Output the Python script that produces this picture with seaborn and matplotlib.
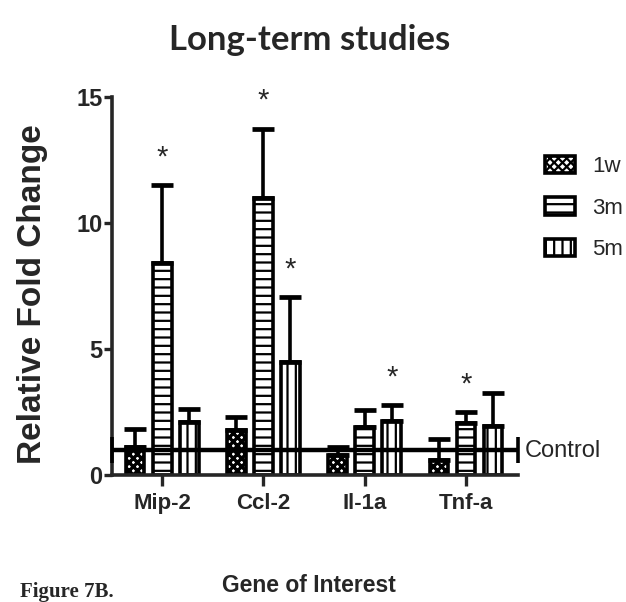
import numpy as np
import pandas as pd
import matplotlib
matplotlib.use("Agg")
import matplotlib.pyplot as plt
from matplotlib import font_manager as fm
import seaborn as sns

# ---- data ----
genes = ["Mip-2", "Ccl-2", "Il-1a", "Tnf-a"]
groups = ["1w", "3m", "5m"]
w1 = [1.10, 1.79, 0.79, 0.60]
w1_err = [0.72, 0.50, 0.31, 0.82]
m3 = [8.40, 11.00, 1.92, 2.08]
m3_err = [3.10, 2.75, 0.66, 0.41]
m5 = [2.09, 4.47, 2.14, 1.94]
m5_err = [0.51, 2.58, 0.64, 1.30]
w1_sig = [False, False, False, False]
m3_sig = [True, True, False, True]
m5_sig = [False, True, True, False]
control = 1.0
yticks = [0, 5, 10, 15]

sns.set_style("ticks")
names = {f.name for f in fm.fontManager.ttflist}
narrow = "Liberation Sans Narrow" if "Liberation Sans Narrow" in names else "Liberation Sans"
plt.rcParams["font.family"] = [narrow, "DejaVu Sans"]
plt.rcParams["hatch.linewidth"] = 1.6

df = pd.DataFrame({
    "gene": genes * 3,
    "group": sum([[g] * len(genes) for g in groups], []),
    "value": w1 + m3 + m5,
})
errs = [w1_err, m3_err, m5_err]
sigs = [w1_sig, m3_sig, m5_sig]

fig = plt.figure(figsize=(6.26, 6.02), dpi=100)
ax = fig.add_axes([112 / 626, 1 - 475 / 602, (518 - 112) / 626, (475 - 97) / 602])

sns.barplot(data=df, x="gene", y="value", hue="group", order=genes, hue_order=groups,
            errorbar=None, gap=0.3, palette=["white"] * 3, edgecolor="black",
            linewidth=2.6, legend=False, ax=ax, zorder=2)

bar_conts = list(ax.containers)
hatches = ["xxxx", "--", "||"]
hatch_lw = [2.4, 1.6, 1.6]
for cont, h, hl, er, sg in zip(bar_conts, hatches, hatch_lw, errs, sigs):
    xs, tops = [], []
    for p in cont.patches:
        p.set_hatch(h)
        if hasattr(p, "set_hatch_linewidth"):
            p.set_hatch_linewidth(hl)
        p.set_facecolor("white")
        p.set_edgecolor("black")
        xs.append(p.get_x() + p.get_width() / 2)
        tops.append(p.get_height())
    ax.errorbar(xs, tops, yerr=[np.zeros(len(er)), er], fmt="none", ecolor="black",
                elinewidth=2.6, capsize=8, capthick=3.4, zorder=3)
    for x, t, e, s in zip(xs, tops, er, sg):
        if s:
            ax.annotate("*", (x, t + e), xytext=(0, 20), textcoords="offset points",
                        ha="center", va="center", fontsize=21)

xl = (-0.494, 3.513)
ax.hlines(control, xl[0], xl[1], color="black", lw=3.2, zorder=4, clip_on=False)
ax.vlines([xl[0], xl[1]], control - 0.52, control + 0.52, color="black", lw=2.6,
          zorder=4, clip_on=False)

ax.set_xlim(*xl)
ax.set_ylim(0, 15)
ax.set_yticks(yticks)
ax.set_yticklabels([str(t) for t in yticks], fontsize=17, fontweight="bold")
ax.set_xticks(range(len(genes)))
ax.set_xticklabels(genes, fontsize=16, fontweight="bold")
ax.tick_params(axis="y", width=2.4, length=6, pad=1)
ax.tick_params(axis="x", width=2.4, length=8, pad=5)
ax.set_xlabel("")
ax.set_ylabel("")
sns.despine(ax=ax)
for s in ["left", "bottom"]:
    ax.spines[s].set_linewidth(2.6)

handles = [c.patches[0] for c in bar_conts]
fig.legend(handles, groups, loc="upper left", bbox_to_anchor=(545 / 626, 1 - 156 / 602),
           frameon=False, borderpad=0, borderaxespad=0, handlelength=1.36,
           handleheight=0.82, labelspacing=0.9, handletextpad=0.75,
           prop={"family": narrow, "size": 16})

fig.text(310 / 626, 1 - 50 / 602, "Long-term studies", ha="center", va="baseline",
         fontsize=25, fontweight="bold", family=["Lato", "DejaVu Sans"])
fig.text(33 / 626, 1 - 294 / 602, "Relative Fold Change", rotation=90, ha="center",
         va="center", fontsize=24, fontweight="bold", family=["Liberation Sans", "DejaVu Sans"])
fig.text(309 / 626, 1 - 592 / 602, "Gene of Interest", ha="center", va="baseline",
         fontsize=16.5, fontweight="bold")
fig.text(20 / 626, 1 - 597 / 602, "Figure 7B.", ha="left", va="baseline",
         fontsize=15, fontweight="bold", family=["Liberation Serif", "DejaVu Serif"])
fig.text(525 / 626, 1 - 451 / 602, "Control", ha="left", va="center", fontsize=17)

fig.savefig("out.png", dpi=100)
